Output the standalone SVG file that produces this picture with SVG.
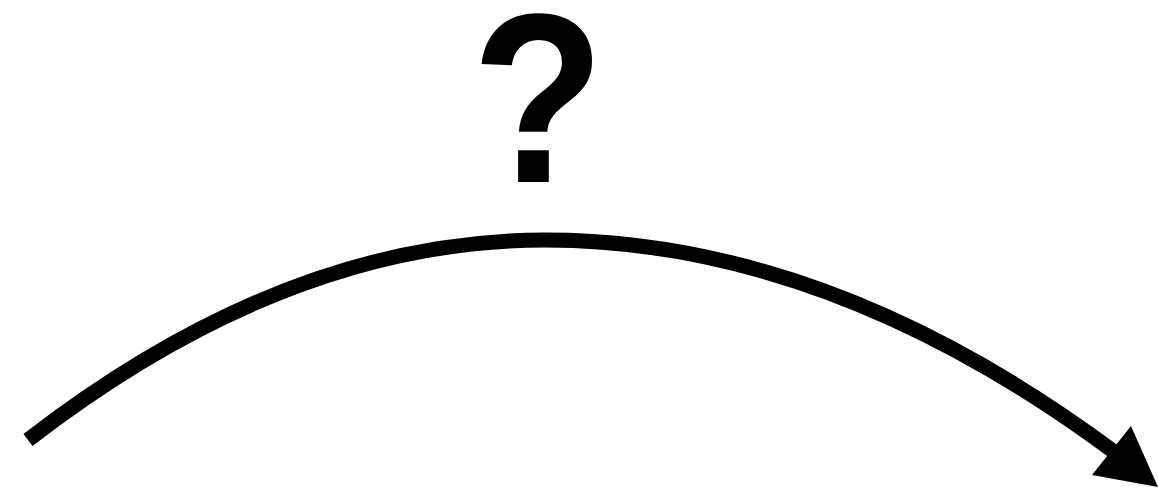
<svg xmlns="http://www.w3.org/2000/svg" width="1158" height="489" viewBox="0 0 1158 489">
<style>
.lbl{font-family:"Liberation Sans",Arial,sans-serif;font-weight:bold;fill:#000}
.conn{fill:none;stroke:#000;stroke-width:15;stroke-linecap:butt}
</style>
<rect width="1158" height="489" fill="#fff"/>
<g id="label-question">
<text class="lbl" transform="translate(538,182) scale(0.9,1)" x="0" y="0" font-size="242" text-anchor="middle">?</text>
</g>
<g id="connectors">
<path class="conn" d="M28,440 Q286.5,240 545,240 Q828.5,240 1113,451"/>
<polygon points="1131,426 1158,487 1092,475" fill="#000"/>
</g>
</svg>
